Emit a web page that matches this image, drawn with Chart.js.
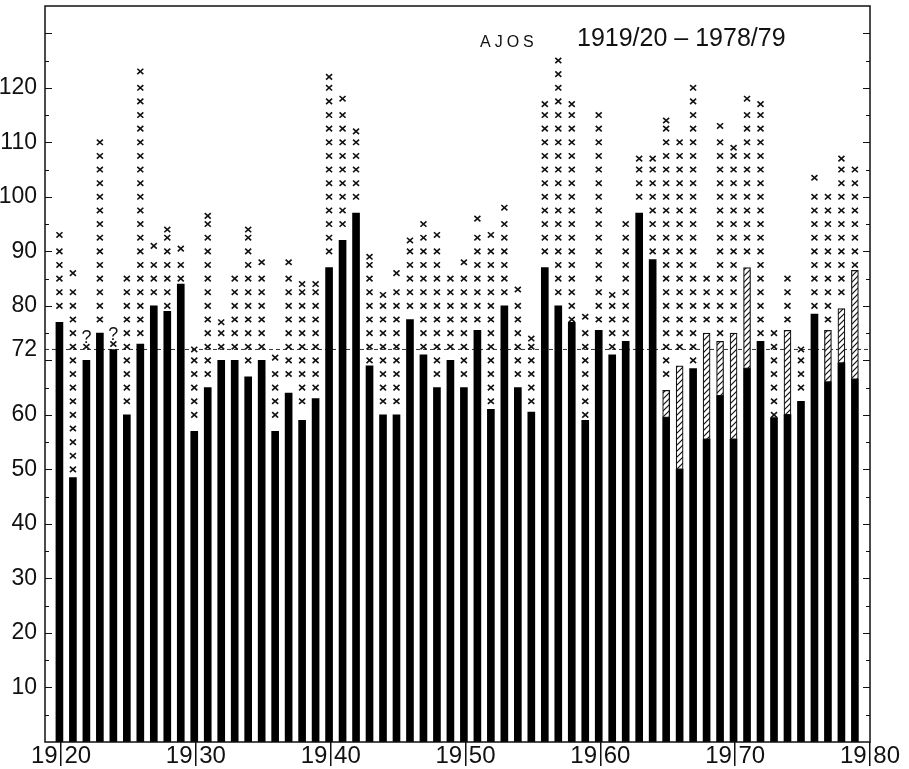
<!DOCTYPE html>
<html lang="es">
<head>
<meta charset="UTF-8">
<title>Ajos 1919/20 - 1978/79</title>
<script src="https://cdn.jsdelivr.net/npm/chart.js"></script>
<style>
  html, body { margin: 0; padding: 0; background: #fff; }
  #grafico { display: block; }
</style>
</head>
<body>
<canvas id="grafico" width="909" height="769"></canvas>
<script>
// temporadas 1919/20 ... 1978/79
const temporadas = [
  '1919/20','1920/21','1921/22','1922/23','1923/24','1924/25','1925/26','1926/27','1927/28','1928/29',
  '1929/30','1930/31','1931/32','1932/33','1933/34','1934/35','1935/36','1936/37','1937/38','1938/39',
  '1939/40','1940/41','1941/42','1942/43','1943/44','1944/45','1945/46','1946/47','1947/48','1948/49',
  '1949/50','1950/51','1951/52','1952/53','1953/54','1954/55','1955/56','1956/57','1957/58','1958/59',
  '1959/60','1960/61','1961/62','1962/63','1963/64','1964/65','1965/66','1966/67','1967/68','1968/69',
  '1969/70','1970/71','1971/72','1972/73','1973/74','1974/75','1975/76','1976/77','1977/78','1978/79'
];

// barra negra
const barraNegra = [
  77, 48.5, 70, 75, 72, 60, 73, 80, 79, 84,
  57, 65, 70, 70, 67, 70, 57, 64, 59, 63,
  87, 92, 97, 69, 60, 60, 77.5, 71, 65, 70,
  65, 75.5, 61, 80, 65, 60.5, 87, 80, 77, 59,
  75.5, 71, 73.5, 97, 88.5, 59.5, 50, 68.5, 55.5, 63.5,
  55.5, 68.5, 73.5, 59.5, 60, 62.5, 78.5, 66, 69.5, 66.5
];

// tramo rayado (encima de la barra negra)
const barraRayada = [
  null, null, null, null, null, null, null, null, null, null,
  null, null, null, null, null, null, null, null, null, null,
  null, null, null, null, null, null, null, null, null, null,
  null, null, null, null, null, null, null, null, null, null,
  null, null, null, null, null, 64.5, 69, null, 75, 73.5,
  75, 87, null, null, 75.5, null, null, 75.5, 79.5, 86.5
];

// columna de cruces: desde / hasta
const cruzMin = [
  80, 50, 72.5, 77.5, 73, 62.5, 75, 82.5, 80, 85,
  60, 67.5, 72.5, 72.5, 70, 72, 60, 67.5, 62.5, 65,
  90, 95, 100, 70, 62.5, 62.5, 80, 72.5, 67.5, 72.5,
  67.5, 77.5, 62.5, 82.5, 67.5, 62.5, 90, 82.5, 77.5, 60,
  77.5, 72.5, 75, 100, 90, 67.5, 72.5, 70, 77.5, 75,
  77.5, 90, 75, 60, 77.5, 65, 80, 77.5, 82.5, 87.5
];
const cruzMax = [
  93, 86, 72.5, 110, 73, 85, 123, 91, 94, 90.5,
  72, 96.5, 77, 85, 94, 88, 70.5, 88, 84, 84,
  122, 118, 112, 89, 82, 86, 92, 95, 93, 85,
  88, 96, 93, 98, 83, 74, 117, 125, 117, 78,
  115, 82, 95, 107, 107, 114, 110, 120, 85, 113,
  109, 118, 117, 75, 85, 72, 103.5, 100, 107, 105
];

const dudosas = ['1921/22', '1923/24'];
const nivelMedio = 72;
const etiquetasY = [10, 20, 30, 40, 50, 60, 72, 80, 90, 100, 110, 120];
const etiquetasX = [1920, 1930, 1940, 1950, 1960, 1970, 1980];

const fuente = '"Liberation Sans", Arial, sans-serif';

function posX(t) {
  return parseInt(t.slice(0, 4)) + 1 - 0.12;
}

function rayado() {
  const c = document.createElement('canvas');
  c.width = 6; c.height = 6;
  const g = c.getContext('2d');
  g.fillStyle = '#fff';
  g.fillRect(0, 0, 6, 6);
  g.strokeStyle = '#111';
  g.lineWidth = 1.2;
  g.beginPath();
  g.moveTo(-1, 7); g.lineTo(7, -1);
  g.moveTo(-1, 1); g.lineTo(1, -1);
  g.moveTo(5, 7); g.lineTo(7, 5);
  g.stroke();
  return document.getElementById('grafico').getContext('2d').createPattern(c, 'repeat');
}

const marcas = {
  id: 'marcas',
  afterDatasetsDraw(chart) {
    const ctx = chart.ctx;
    const a = chart.chartArea;
    const y = chart.scales.y;
    const meta = chart.getDatasetMeta(3);
    ctx.save();

    // cruces
    ctx.strokeStyle = '#111';
    ctx.lineWidth = 1.6;
    meta.data.forEach((el, i) => {
      const lo = cruzMin[i], hi = cruzMax[i];
      const vals = [hi];
      for (let v = Math.ceil(lo / 2.5 - 1e-6) * 2.5; v <= hi - 1.2; v += 2.5) vals.push(v);
      ctx.beginPath();
      vals.forEach(v => {
        const py = y.getPixelForValue(v);
        ctx.moveTo(el.x - 3, py - 2.7); ctx.lineTo(el.x + 3, py + 2.7);
        ctx.moveTo(el.x - 3, py + 2.7); ctx.lineTo(el.x + 3, py - 2.7);
      });
      ctx.stroke();
      if (dudosas.includes(temporadas[i])) {
        ctx.fillStyle = '#111';
        ctx.font = '18px ' + fuente;
        ctx.textAlign = 'center';
        ctx.textBaseline = 'alphabetic';
        ctx.fillText('?', el.x, y.getPixelForValue(hi) - 4);
      }
    });

    // marco y marcas de los ejes
    ctx.lineWidth = 1.5;
    ctx.strokeRect(a.left, a.top, a.right - a.left, a.bottom - a.top);
    ctx.beginPath();
    for (let v = 5; v < y.max; v += 5) {
      const py = Math.round(y.getPixelForValue(v)) + 0.5;
      const l = v % 10 === 0 ? 7 : 4;
      ctx.moveTo(a.left, py); ctx.lineTo(a.left + l, py);
      ctx.moveTo(a.right, py); ctx.lineTo(a.right - l, py);
    }
    ctx.lineWidth = 1.2;
    ctx.stroke();

    // titulo
    ctx.fillStyle = '#111';
    ctx.textAlign = 'left';
    ctx.textBaseline = 'alphabetic';
    ctx.font = '16px ' + fuente;
    ctx.letterSpacing = '4px';
    ctx.fillText('AJOS', 480, 47);
    ctx.letterSpacing = '0px';
    ctx.font = '25px ' + fuente;
    ctx.fillText('1919/20 \u2013 1978/79', 577, 46);
    ctx.restore();
  }
};

const xMin = 1918.81, xMax = 1980;

new Chart(document.getElementById('grafico'), {
  type: 'bar',
  data: {
    datasets: [
      {
        type: 'line',
        data: [{ x: xMin, y: nivelMedio }, { x: xMax, y: nivelMedio }],
        borderColor: '#333',
        borderWidth: 1,
        borderDash: [4, 3],
        pointRadius: 0,
        order: 10
      },
      {
        data: temporadas.map((t, i) => ({ x: posX(t), y: barraNegra[i] })),
        backgroundColor: '#000',
        barThickness: 7,
        grouped: false,
        order: 2
      },
      {
        data: temporadas.map((t, i) => ({ x: posX(t), y: barraRayada[i] == null ? null : [barraNegra[i], barraRayada[i]] }))
          .filter(d => d.y !== null),
        backgroundColor: rayado(),
        borderColor: '#111',
        borderWidth: 1.2,
        borderSkipped: false,
        barThickness: 7,
        grouped: false,
        order: 1
      },
      {
        data: temporadas.map((t, i) => ({ x: posX(t), y: [cruzMin[i], cruzMax[i]] })),
        backgroundColor: 'rgba(0,0,0,0)',
        borderWidth: 0,
        barThickness: 7,
        grouped: false,
        order: 0
      }
    ]
  },
  options: {
    responsive: false,
    devicePixelRatio: 1,
    animation: false,
    layout: { padding: { top: 6, right: 39, left: 0, bottom: 0 } },
    plugins: { legend: { display: false }, tooltip: { enabled: false } },
    scales: {
      x: {
        type: 'linear',
        min: xMin,
        max: xMax,
        offset: false,
        afterBuildTicks: s => { s.ticks = etiquetasX.map(v => ({ value: v })); },
        afterFit: s => { s.height = 27; s.paddingLeft = 0; s.paddingRight = 0; },
        border: { display: false },
        grid: { offset: false, drawOnChartArea: false, drawTicks: true, tickLength: 24, color: '#111', lineWidth: 1.5 },
        ticks: {
          autoSkip: false,
          maxRotation: 0,
          padding: -24,
          color: '#111',
          font: { family: fuente, size: 24 },
          callback: v => String(v).slice(0, 2) + ' ' + String(v).slice(2)
        }
      },
      y: {
        min: 0,
        max: 135,
        afterBuildTicks: s => { s.ticks = etiquetasY.map(v => ({ value: v })); },
        afterFit: s => { s.width = 45; s.paddingTop = 0; s.paddingBottom = 0; },
        border: { display: false },
        grid: { display: false },
        ticks: {
          padding: 0,
          color: '#111',
          font: { family: fuente, size: 23 }
        }
      }
    }
  },
  plugins: [marcas]
});
</script>
</body>
</html>
